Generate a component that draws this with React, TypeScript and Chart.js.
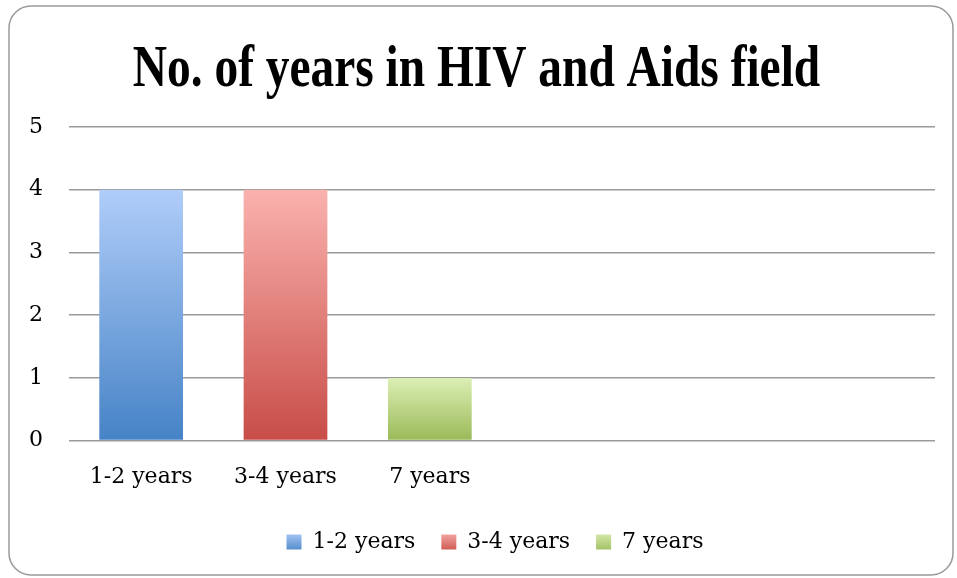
import React, { useEffect, useRef } from "react";
import { Chart, registerables } from "chart.js";

Chart.register(...registerables);

const TITLE = "No. of years in HIV and Aids field";
const categories = ["1-2 years", "3-4 years", "7 years", "", "", ""];
const values: (number | null)[] = [4, 4, 1, null, null, null];
const legendLabels = ["1-2 years", "3-4 years", "7 years"];
const topColors = ["#b0cdf9", "#fab2ae", "#dbefb4"];
const bottomColors = ["#4683c6", "#c84d47", "#9aba58"];
const yTicks = [0, 1, 2, 3, 4, 5];

const FONT = "'DejaVu Serif', serif";

const framePlugin = {
  id: "frame",
  afterLayout(chart: any) {
    const lg = chart.legend;
    if (lg) {
      lg.left += 26;
      lg.right += 26;
    }
  },
  beforeDraw(chart: any) {
    const ctx = chart.ctx;
    ctx.save();
    ctx.fillStyle = "#ffffff";
    ctx.fillRect(0, 0, chart.width, chart.height);
    const x = 9, y = 6, w = 944, h = 569, r = 22;
    ctx.beginPath();
    ctx.moveTo(x + r, y);
    ctx.lineTo(x + w - r, y);
    ctx.arcTo(x + w, y, x + w, y + r, r);
    ctx.lineTo(x + w, y + h - r);
    ctx.arcTo(x + w, y + h, x + w - r, y + h, r);
    ctx.lineTo(x + r, y + h);
    ctx.arcTo(x, y + h, x, y + h - r, r);
    ctx.lineTo(x, y + r);
    ctx.arcTo(x, y, x + r, y, r);
    ctx.closePath();
    ctx.strokeStyle = "#9a9a9a";
    ctx.lineWidth = 1.5;
    ctx.stroke();
    ctx.restore();

    const legend = chart.legend;
    if (legend && legend.legendItems && legend.legendHitBoxes) {
      legend.legendItems.forEach((item: any, i: number) => {
        const hb = legend.legendHitBoxes[i];
        if (!hb) return;
        const g = ctx.createLinearGradient(0, hb.top, 0, hb.top + hb.height);
        g.addColorStop(0, topColors[i]);
        g.addColorStop(1, bottomColors[i]);
        item.fillStyle = g;
      });
    }
  },
  afterDraw(chart: any) {
    const ctx = chart.ctx;
    ctx.save();
    ctx.fillStyle = "#000000";
    ctx.font = "bold 60px 'Liberation Serif', serif";
    ctx.textAlign = "center";
    ctx.textBaseline = "alphabetic";
    ctx.translate(476.5, 86);
    ctx.scale(0.79, 1);
    ctx.fillText(TITLE, 0, 0);
    ctx.restore();
  },
};

function barColor(c: any) {
  const chart = c.chart;
  const i = c.dataIndex;
  if (!chart.chartArea || values[i] == null) return bottomColors[i % 3];
  const ys = chart.scales.y;
  const top = ys.getPixelForValue(values[i] as number);
  const bot = ys.getPixelForValue(0);
  const g = chart.ctx.createLinearGradient(0, top, 0, bot);
  g.addColorStop(0, topColors[i]);
  g.addColorStop(1, bottomColors[i]);
  return g;
}

export default function App() {
  const ref = useRef<HTMLCanvasElement>(null);
  useEffect(() => {
    if (!ref.current) return;
    const chart = new Chart(ref.current, {
      type: "bar",
      data: {
        labels: categories,
        datasets: [
          {
            label: "Years",
            data: values,
            backgroundColor: barColor,
            borderWidth: 0,
            categoryPercentage: 1,
            barPercentage: 0.58,
          },
        ],
      },
      plugins: [framePlugin],
      options: {
        animation: false,
        responsive: false,
        maintainAspectRatio: false,
        layout: { padding: { left: 3, right: 22, top: 127, bottom: 15 } },
        plugins: {
          title: { display: false },
          tooltip: { enabled: false },
          legend: {
            display: true,
            position: "bottom",
            labels: {
              font: { family: FONT, size: 22 },
              color: "#000",
              boxWidth: 15,
              boxHeight: 15,
              padding: 26,
              generateLabels: () =>
                legendLabels.map((t, i) => ({
                  text: t,
                  fillStyle: bottomColors[i],
                  strokeStyle: "rgba(0,0,0,0)",
                  lineWidth: 0,
                  hidden: false,
                  index: i,
                  datasetIndex: 0,
                })),
            },
            onClick: () => {},
          },
        },
        scales: {
          x: {
            grid: { display: false },
            border: { display: false },
            ticks: {
              font: { family: FONT, size: 22 },
              color: "#000",
              padding: 15,
              maxRotation: 0,
              autoSkip: false,
            },
          },
          y: {
            min: 0,
            max: 5,
            afterBuildTicks: (axis: any) => {
              axis.ticks = yTicks.map((v) => ({ value: v }));
            },
            grid: { color: "#9a9a9a", lineWidth: 1.5, drawTicks: false },
            border: { display: false },
            ticks: {
              font: { family: FONT, size: 22 },
              color: "#000",
              padding: 26,
            },
          },
        },
      },
    });
    return () => chart.destroy();
  }, []);
  return (
    <div style={{ position: "absolute", left: 0, top: 0, width: 957, height: 578 }}>
      <canvas ref={ref} width={957} height={578} style={{ display: "block", width: 957, height: 578 }} />
    </div>
  );
}
